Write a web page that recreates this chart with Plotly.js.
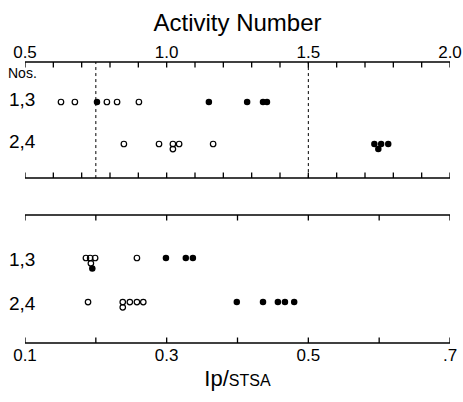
<!DOCTYPE html>
<html><head><meta charset="utf-8">
<script src="https://cdn.plot.ly/plotly-3.0.1.min.js"></script>
<style>html,body{margin:0;padding:0;background:#fff}#chart{width:463px;height:402px}</style>
</head><body><div id="chart"></div>
<script>
// ---- Top panel: Activity Number ----
const actRow13Open   = [0.627, 0.676, 0.789, 0.825, 0.902];
const actRow13Filled = [0.754, 1.149, 1.284, 1.340, 1.354];
const actRow24Open      = [0.849, 0.973, 1.022, 1.022, 1.044, 1.164];
const actRow24OpenStack = [0, 0, 0, 1, 0, 0];
const actRow24Filled      = [1.733, 1.747, 1.757, 1.782];
const actRow24FilledStack = [0, 1, 0, 0];
// ---- Bottom panel: Ip/STSA ----
const ipRow13Open      = [0.186, 0.192, 0.193, 0.199, 0.258];
const ipRow13OpenStack = [0, 0, 1, 0, 0];
const ipRow13Filled      = [0.195, 0.299, 0.327, 0.337];
const ipRow13FilledStack = [2, 0, 0, 0];
const ipRow24Open      = [0.189, 0.238, 0.238, 0.248, 0.258, 0.267];
const ipRow24OpenStack = [0, 0, 1, 0, 0, 0];
const ipRow24Filled = [0.399, 0.436, 0.457, 0.467, 0.480];
// ---- labels / ticks ----
const rowLabels = ['1,3', '2,4'];
const rowHeader = 'Nos.';
const actTicks = [0.5,0.6,0.7,0.8,0.9,1.0,1.1,1.2,1.3,1.4,1.5,1.6,1.7,1.8,1.9,2.0];
const actTickText = ['0.5','','','','','1.0','','','','','1.5','','','','','2.0'];
const ipTicks = [0.1,0.2,0.3,0.4,0.5,0.6,0.7];
const ipTickText = ['0.1','','0.3','','0.5','','.7'];
const activityRefLines = [0.75, 1.5];

const STACK = 0.12;
function pts(xs, row, stack, filled, xa, ya) {
  const y = stack ? stack.map(s => row + s*STACK) : xs.map(() => row);
  return {
    type: 'scatter', mode: 'markers', x: xs, y: y, xaxis: xa, yaxis: ya,
    hoverinfo: 'skip', showlegend: false,
    marker: filled
      ? {symbol: 'circle', size: 6.5, color: '#000', line: {width: 0}}
      : {symbol: 'circle-open', size: 5.5, color: '#000', line: {width: 1.2, color: '#000'}}
  };
}
const data = [
  pts(actRow13Open, 1, null, false, 'x', 'y'),
  pts(actRow13Filled, 1, null, true, 'x', 'y'),
  pts(actRow24Open, 2, actRow24OpenStack, false, 'x', 'y'),
  pts(actRow24Filled, 2, actRow24FilledStack, true, 'x', 'y'),
  pts(ipRow13Open, 1, ipRow13OpenStack, false, 'x2', 'y2'),
  pts(ipRow13Filled, 1, ipRow13FilledStack, true, 'x2', 'y2'),
  pts(ipRow24Open, 2, ipRow24OpenStack, false, 'x2', 'y2'),
  pts(ipRow24Filled, 2, null, true, 'x2', 'y2')
];

const FONT = 'Liberation Sans, Arial, sans-serif';
const axBase = {
  showline: false, ticks: '', showgrid: false, zeroline: false, fixedrange: true,
  tickfont: {family: FONT, size: 17, color: '#000'}
};
const yHidden = {showline: false, showticklabels: false, ticks: '', showgrid: false, zeroline: false, fixedrange: true};

// frame lines and inward ticks for both panels, placed through the axes' own scales
const panels = [
  {xa: 'x',  ya: 'y',  ticks: actTicks, len: 5.5 / 116},
  {xa: 'x2', ya: 'y2', ticks: ipTicks,  len: 5.5 / 128}
];
const frameShapes = [];
panels.forEach(p => {
  [0, 1].forEach(edge => {
    frameShapes.push({type: 'line', xref: p.xa + ' domain', yref: p.ya + ' domain',
      x0: 0, x1: 1, y0: edge, y1: edge, line: {color: '#000', width: 1.6}});
    p.ticks.forEach(v => frameShapes.push({type: 'line', xref: p.xa, yref: p.ya + ' domain',
      x0: v, x1: v, y0: edge, y1: edge === 1 ? 1 - p.len : p.len, line: {color: '#000', width: 1.3}}));
  });
});

const layout = {
  width: 463, height: 402,
  margin: {l: 25, r: 13, t: 62, b: 59},
  paper_bgcolor: '#fff', plot_bgcolor: '#fff',
  font: {family: FONT, color: '#000'},
  xaxis: Object.assign({}, axBase, {
    anchor: 'y', side: 'top', range: [0.5, 2.0],
    tickmode: 'array', tickvals: actTicks, ticktext: actTickText,
    title: {text: 'Activity Number', font: {family: FONT, size: 24, color: '#000'}, standoff: 4}
  }),
  yaxis: Object.assign({}, yHidden, {domain: [0.587, 1], range: [2.81, 0.048]}),
  xaxis2: Object.assign({}, axBase, {
    anchor: 'y2', side: 'bottom', range: [0.1, 0.7],
    tickmode: 'array', tickvals: ipTicks, ticktext: ipTickText,
    title: {text: "Ip/<span style='font-size:16px'>STSA</span>", font: {family: FONT, size: 22, color: '#000'}, standoff: 6}
  }),
  yaxis2: Object.assign({}, yHidden, {domain: [0, 0.4555], range: [2.93, 0.023]}),
  shapes: frameShapes.concat(activityRefLines.map(v => ({
    type: 'line', xref: 'x', yref: 'y domain', x0: v, x1: v, y0: 0, y1: 1,
    line: {color: '#000', width: 1, dash: 'dot'}
  }))),
  annotations: [
    {text: rowHeader, xref: 'paper', yref: 'y', x: -0.007, y: 0.31, xanchor: 'center', yanchor: 'middle', showarrow: false, font: {family: FONT, size: 14, color: '#000'}},
    ...rowLabels.map((t, i) => ({text: t, xref: 'paper', yref: 'y', x: -0.007, y: i + 1, yshift: 3, xanchor: 'center', yanchor: 'middle', showarrow: false, font: {family: FONT, size: 19, color: '#000'}})),
    ...rowLabels.map((t, i) => ({text: t, xref: 'paper', yref: 'y2', x: -0.007, y: i + 1, yshift: -1, xanchor: 'center', yanchor: 'middle', showarrow: false, font: {family: FONT, size: 19, color: '#000'}}))
  ]
};
Plotly.newPlot('chart', data, layout, {staticPlot: true, displayModeBar: false});
</script>
</body></html>
